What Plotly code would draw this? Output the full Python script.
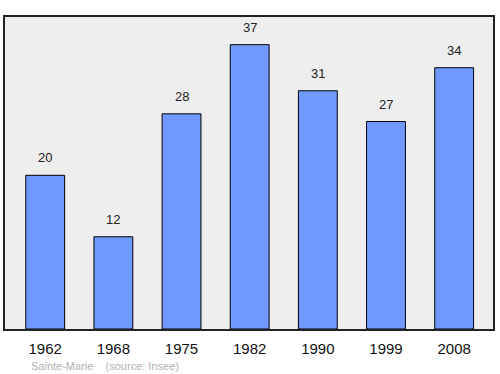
import plotly.graph_objects as go

years = ["1962", "1968", "1975", "1982", "1990", "1999", "2008"]
population = [20, 12, 28, 37, 31, 27, 34]
footer_text = "Sainte-Marie    (source: Insee)"

fig = go.Figure()
fig.add_trace(go.Bar(
    x=list(range(len(years))), y=population,
    width=0.57,
    marker=dict(color="#7099ff", line=dict(color="#000000", width=1)),
    hoverinfo="skip",
))

for i, v in enumerate(population):
    fig.add_annotation(x=i, y=v, text=str(v), showarrow=False,
                       yanchor="bottom", yshift=8,
                       font=dict(family="Liberation Sans, Arial, sans-serif", size=13, color="#222222"))

fig.add_annotation(xref="paper", yref="paper", x=0.049, y=-0.117, text=footer_text,
                   showarrow=False, xanchor="left", yanchor="middle",
                   font=dict(family="Liberation Sans, Arial, sans-serif", size=11, color="#b0b0b0"))

fig.update_layout(
    width=500, height=374,
    margin=dict(l=5, r=5, t=17, b=45),
    paper_bgcolor="#ffffff", plot_bgcolor="#eeeeee",
    showlegend=False,
    xaxis=dict(range=[-0.59, 6.57], tickmode="array", tickvals=list(range(len(years))),
               ticktext=years, showgrid=False, zeroline=False,
               ticks="outside", ticklen=5, tickcolor="rgba(0,0,0,0)",
               tickfont=dict(family="Liberation Sans, Arial, sans-serif", size=15, color="#111111"),
               showline=True, linecolor="#222222", linewidth=1.5, mirror=True),
    yaxis=dict(range=[0, 40.6], showticklabels=False, showgrid=False, zeroline=False,
               ticks="", showline=True, linecolor="#222222", linewidth=1.5, mirror=True),
)

fig.write_html("out.html")
